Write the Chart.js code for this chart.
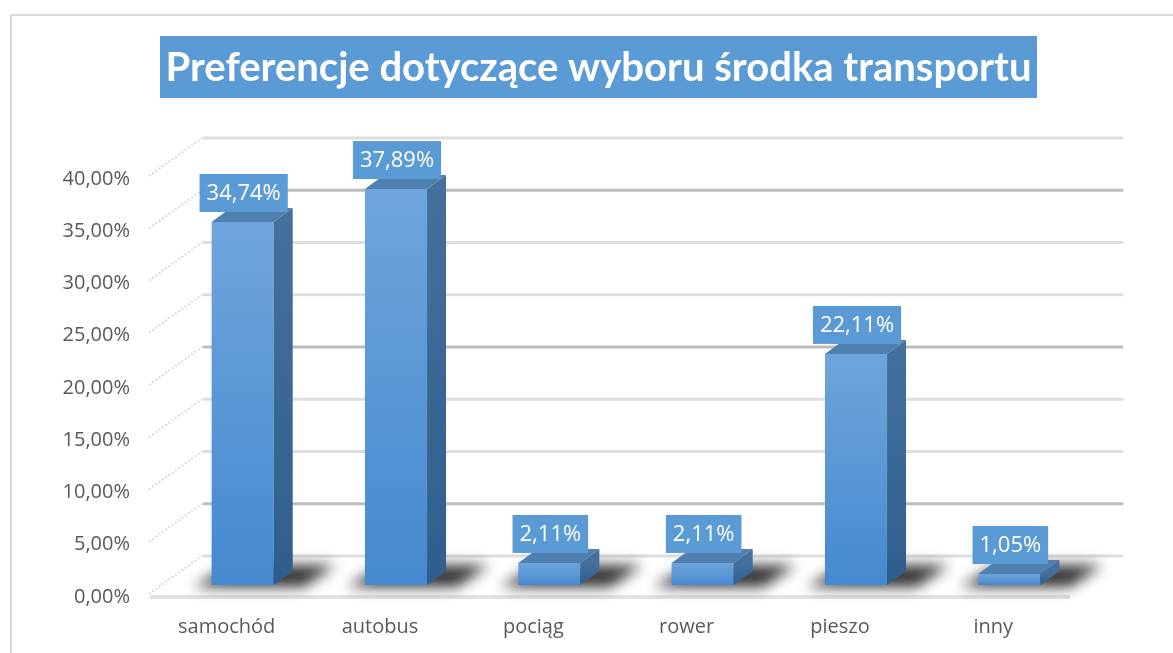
<!DOCTYPE html>
<html>
<head>
<meta charset="utf-8">
<script src="https://cdn.jsdelivr.net/npm/chart.js@4/dist/chart.umd.min.js"></script>
<style>
  body { margin: 0; background: #fff; }
  canvas { display: block; }
</style>
</head>
<body>
<canvas id="barChart" width="1173" height="653"></canvas>
<script>
const title = "Preferencje dotyczące wyboru środka transportu";
const categories = ["samochód", "autobus", "pociąg", "rower", "pieszo", "inny"];
const shares = [34.74, 37.89, 2.11, 2.11, 22.11, 1.05];
const yTicks = [0, 5, 10, 15, 20, 25, 30, 35, 40];

function pct(v) {
  return v.toFixed(2).replace(".", ",") + "%";
}

// depth of the back wall and of the bars (pseudo 3D)
const WALL_DX = 54, WALL_DY = -41;
const BAR_DX = 16, BAR_DY = -12;
const SIDE_DX = 19, SIDE_DY = -14;

const frame = {
  id: "frame",
  beforeDraw(chart) {
    const ctx = chart.ctx;
    ctx.save();
    ctx.strokeStyle = "#d9d9d9";
    ctx.lineWidth = 2;
    ctx.strokeRect(11, 15, 1220, 700);

    // title box
    ctx.fillStyle = "#5b9bd5";
    ctx.fillRect(160, 36, 877, 62);
    ctx.fillStyle = "#ffffff";
    ctx.font = "bold 41px Lato";
    ctx.textAlign = "center";
    ctx.textBaseline = "middle";
    ctx.fillText(title, 598.5, 68, 866);
    ctx.restore();
  }
};

const bars3d = {
  id: "bars3d",
  afterDatasetsDraw(chart) {
    const ctx = chart.ctx;
    const area = chart.chartArea;
    const y = chart.scales.y;
    ctx.save();

    // back wall grid lines and dashed side wall lines
    yTicks.forEach(v => {
      const yf = y.getPixelForValue(v);
      const yb = yf + WALL_DY;
      const dark = v % 15 === 5;
      ctx.lineCap = "round";
      ctx.strokeStyle = dark ? "#bdbdbd" : "#dedede";
      ctx.lineWidth = 3;
      ctx.beginPath();
      ctx.moveTo(area.left + WALL_DX, yb);
      ctx.lineTo(area.right + WALL_DX - 2, yb);
      ctx.stroke();

      ctx.lineCap = "butt";
      ctx.strokeStyle = "#dadada";
      ctx.lineWidth = 2;
      ctx.setLineDash([2, 2]);
      ctx.beginPath();
      ctx.moveTo(area.left - 1, yf - 3);
      ctx.lineTo(area.left + WALL_DX - 2, yb);
      ctx.stroke();
      ctx.setLineDash([]);
    });

    // floor front edge
    const y0 = y.getPixelForValue(0);
    ctx.strokeStyle = "#e2e2e2";
    ctx.lineWidth = 4;
    ctx.beginPath();
    ctx.moveTo(area.left, y0);
    ctx.lineTo(area.right, y0);
    ctx.stroke();

    const meta = chart.getDatasetMeta(0);

    // floor shadows
    meta.data.forEach(bar => {
      const w = bar.width;
      const x0 = bar.x - w / 2 + BAR_DX;
      const x1 = x0 + w;
      const b = bar.base + BAR_DY;
      ctx.save();
      ctx.filter = "blur(7px)";
      ctx.fillStyle = "rgba(0,0,0,0.8)";
      ctx.beginPath();
      ctx.moveTo(x0 - 18, b + 2);
      ctx.lineTo(x1 + 30, b + 2);
      ctx.lineTo(x1 + 62, b - 20);
      ctx.lineTo(x0 + 20, b - 20);
      ctx.closePath();
      ctx.fill();
      ctx.restore();
    });

    // bars
    meta.data.forEach((bar, i) => {
      const w = bar.width;
      const x0 = bar.x - w / 2 + BAR_DX;
      const x1 = x0 + w;
      const top = bar.y + BAR_DY;
      const b = bar.base + BAR_DY;

      const gf = ctx.createLinearGradient(0, top, 0, b);
      gf.addColorStop(0, "#6fa5dc");
      gf.addColorStop(1, "#4589d0");
      ctx.fillStyle = gf;
      ctx.fillRect(x0, top, w, b - top);

      const gs = ctx.createLinearGradient(0, top, 0, b);
      gs.addColorStop(0, "#44709c");
      gs.addColorStop(1, "#2f5e8e");
      ctx.fillStyle = gs;
      ctx.beginPath();
      ctx.moveTo(x1, top);
      ctx.lineTo(x1 + SIDE_DX, top + SIDE_DY);
      ctx.lineTo(x1 + SIDE_DX, b + SIDE_DY);
      ctx.lineTo(x1, b);
      ctx.closePath();
      ctx.fill();

      ctx.fillStyle = "#5080b0";
      ctx.beginPath();
      ctx.moveTo(x0, top);
      ctx.lineTo(x0 + SIDE_DX, top + SIDE_DY);
      ctx.lineTo(x1 + SIDE_DX, top + SIDE_DY);
      ctx.lineTo(x1, top);
      ctx.closePath();
      ctx.fill();

      // value label
      const txt = pct(shares[i]);
      ctx.font = "22px 'Open Sans'";
      const tw = ctx.measureText(txt).width;
      const cx = (x0 + x1) / 2 + 1;
      const bw = tw + 14, bh = 38;
      const by = top - 10 - bh;
      ctx.fillStyle = "#5b9bd5";
      ctx.fillRect(cx - bw / 2, by, bw, bh);
      ctx.fillStyle = "#ffffff";
      ctx.textAlign = "center";
      ctx.textBaseline = "middle";
      ctx.fillText(txt, cx, by + bh / 2 + 1);
    });

    ctx.restore();
  }
};

new Chart(document.getElementById("barChart"), {
  type: "bar",
  data: {
    labels: categories,
    datasets: [{
      label: title,
      data: shares,
      backgroundColor: "rgba(0,0,0,0)",
      borderWidth: 0,
      barPercentage: 0.405,
      categoryPercentage: 1
    }]
  },
  options: {
    responsive: false,
    animation: false,
    events: [],
    layout: { padding: { left: 0, right: 103, top: 179, bottom: 0 } },
    plugins: {
      legend: { display: false },
      tooltip: { enabled: false },
      title: { display: false }
    },
    scales: {
      x: {
        grid: { display: false, drawTicks: false },
        border: { display: false },
        ticks: {
          color: "#595959",
          font: { family: "'Open Sans'", size: 20 },
          padding: 18
        },
        afterFit(s) { s.height = 56; }
      },
      y: {
        min: 0,
        max: 40,
        grid: { display: false, drawTicks: false },
        border: { display: false },
        afterBuildTicks(s) { s.ticks = yTicks.map(v => ({ value: v })); },
        ticks: {
          color: "#595959",
          font: { family: "'Open Sans'", size: 20 },
          padding: 20,
          callback: v => pct(v)
        },
        afterFit(s) { s.width = 150; }
      }
    }
  },
  plugins: [frame, bars3d]
});
</script>
</body>
</html>
